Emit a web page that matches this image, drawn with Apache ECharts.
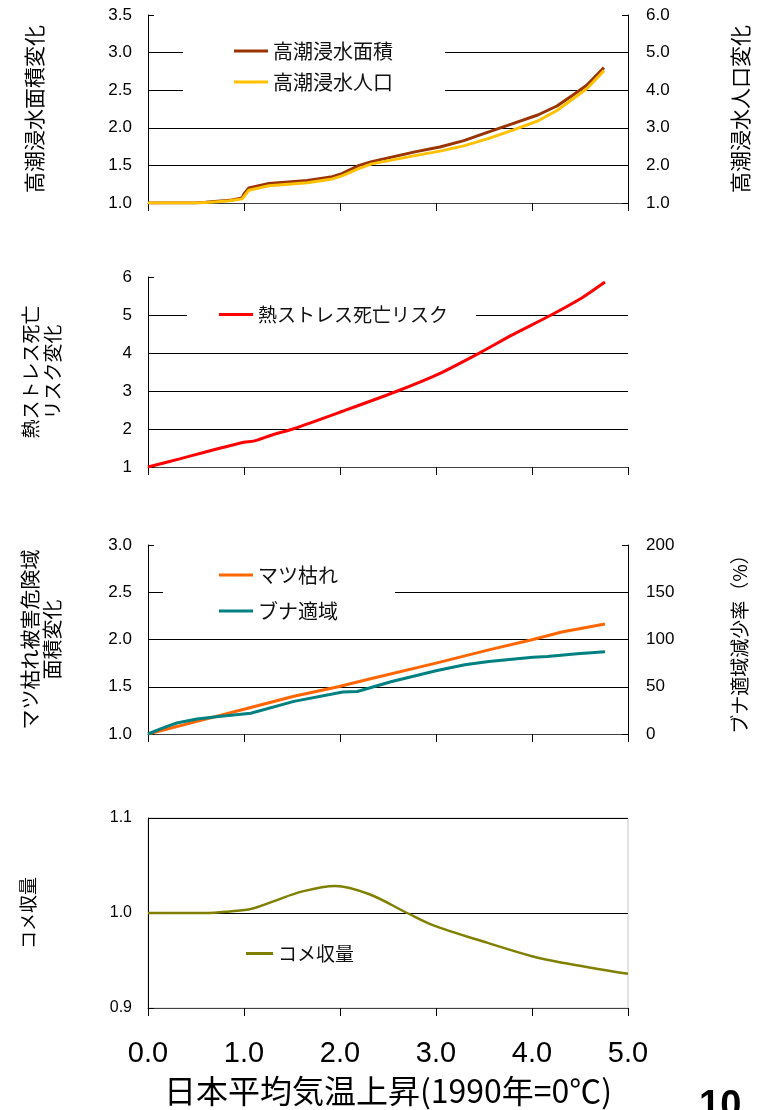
<!DOCTYPE html>
<html lang="ja">
<head>
  <meta charset="utf-8">
</head>
<body style="margin: 0; background: #fff">
  <div id="container" style="width: 765px; height: 1110px"></div>

  <script type="text/javascript" src="https://cdn.jsdelivr.net/npm/echarts@6.0.0/dist/echarts.min.js"></script>
  <script type="text/javascript">
    // 日本平均気温上昇 (x) ごとの影響
    var xTicks = ['0.0', '1.0', '2.0', '3.0', '4.0', '5.0'];

    // 高潮浸水 (左: 面積変化, 右: 人口変化)
    var floodX = [0, 0.49, 0.6, 0.85, 0.98, 1.0, 1.05, 1.26, 1.66, 1.92, 2.02, 2.2, 2.33, 2.78, 3.04, 3.29, 3.55, 3.8, 4.06, 4.26, 4.42, 4.57, 4.75];
    var floodArea = [1.0, 1.0, 1.01, 1.035, 1.067, 1.12, 1.2, 1.26, 1.3, 1.35, 1.39, 1.5, 1.55, 1.68, 1.745, 1.83, 1.945, 2.055, 2.17, 2.29, 2.43, 2.565, 2.8];
    var floodPop = [1.0, 1.0, 1.01, 1.06, 1.11, 1.16, 1.34, 1.46, 1.54, 1.64, 1.72, 1.92, 2.04, 2.26, 2.38, 2.52, 2.72, 2.94, 3.18, 3.46, 3.76, 4.04, 4.52];

    // 熱ストレス死亡リスク
    var heatX = [0, 0.34, 0.59, 1.0, 1.1, 1.3, 1.51, 2.02, 2.6, 3.03, 3.46, 3.79, 4.2, 4.5, 4.76];
    var heatRisk = [1.0, 1.22, 1.39, 1.65, 1.68, 1.85, 2.0, 2.46, 3.0, 3.45, 4.01, 4.47, 5.0, 5.42, 5.87];

    // マツ枯れ (左) / ブナ適域減少率 % (右)
    var pineX = [0, 0.51, 1.02, 1.52, 1.98, 2.34, 3.0, 3.55, 4.01, 4.31, 4.76];
    var pineArea = [1.0, 1.134, 1.268, 1.4, 1.5, 1.59, 1.75, 1.89, 2.0, 2.08, 2.165];
    var beechX = [0, 0.15, 0.3, 0.51, 0.76, 1.02, 1.07, 1.52, 2.03, 2.18, 2.54, 3.0, 3.3, 3.55, 4.01, 4.16, 4.47, 4.76];
    var beechLoss = [0, 6.3, 11.6, 15.8, 18.7, 21.5, 22, 34.5, 44.4, 45, 55.6, 66.9, 73.2, 76.8, 81.3, 82, 85, 87];

    // コメ収量
    var riceX = [0, 0.6, 0.85, 1.08, 1.3, 1.6, 1.95, 2.3, 2.7, 2.98, 3.54, 4.0, 4.3, 5.0];
    var riceYield = [1.0, 1.0, 1.0017, 1.0045, 1.012, 1.0225, 1.0285, 1.02, 1.0, 0.9867, 0.9685, 0.9545, 0.948, 0.936];

    function pairs(xs, ys) {
      return xs.map(function (x, i) { return [x, ys[i]]; });
    }

    var numFont = 'Liberation Sans, Arial, sans-serif';
    var jpFont = 'Noto Sans CJK JP, sans-serif';
    var fix1 = function (v) { return v.toFixed(1); };

    var dom = document.getElementById('container');
    var myChart = echarts.init(dom, null, { renderer: 'canvas' });

    var grids = [
      { left: 148, width: 480, top: 15, height: 188 },
      { left: 148, width: 480, top: 277, height: 190 },
      { left: 148, width: 480, top: 545, height: 189 },
      { left: 148, width: 480, top: 818, height: 190, show: true, borderColor: '#c8c8c8', borderWidth: 1 }
    ];

    function xAxisFor(i, last) {
      return {
        type: 'value', gridIndex: i, min: 0, max: 5, interval: 1,
        axisLine: { lineStyle: { color: '#404040', width: 1 } },
        axisTick: { show: true, length: 8, lineStyle: { color: '#000' } },
        splitLine: { show: false },
        axisLabel: last ? {
          show: true, margin: 31, fontSize: 29, color: '#000', fontFamily: numFont,
          formatter: function (v) { return xTicks[Math.round(v)]; }
        } : { show: false },
        name: last ? '日本平均気温上昇(1990年=0℃)' : '',
        nameLocation: 'middle', nameGap: 67,
        nameTextStyle: { fontSize: 32, color: '#000', fontFamily: jpFont }
      };
    }

    function yAxisFor(i, o) {
      return {
        type: 'value', gridIndex: i, position: o.pos || 'left',
        min: o.min, max: o.max, interval: o.interval,
        axisLine: { show: true, lineStyle: { color: '#000', width: 1 } },
        axisTick: { show: true, inside: true, length: 6, lineStyle: { color: '#000' } },
        axisLabel: { margin: o.pos === 'right' ? 18 : 16, fontSize: o.lblSize || 17, color: '#000', fontFamily: numFont, formatter: o.fmt },
        splitLine: o.split === false ? { show: false } : {
          show: true, showMaxLine: !!o.maxLine, lineStyle: { color: '#000', width: 1 }
        },
        name: o.name, nameLocation: 'middle', nameRotate: 90, nameGap: o.gap,
        nameTextStyle: { fontSize: o.nameSize || 20, color: '#000', fontFamily: jpFont, lineHeight: o.lh || 22 }
      };
    }

    var legendBase = {
      orient: 'vertical', icon: 'rect', itemWidth: 34, itemHeight: 3,
      backgroundColor: '#fff', borderRadius: 0,
      textStyle: { fontSize: 20, color: '#111', fontFamily: jpFont }
    };

    var option = {
      animation: false,
      backgroundColor: '#fff',
      grid: grids,
      xAxis: [xAxisFor(0), xAxisFor(1), xAxisFor(2), xAxisFor(3, true)],
      yAxis: [
        yAxisFor(0, { min: 1, max: 3.5, interval: 0.5, fmt: fix1, name: '高潮浸水面積変化', gap: 103, nameSize: 21 }),
        yAxisFor(0, { pos: 'right', min: 1, max: 6, interval: 1, fmt: fix1, split: false, name: '高潮浸水人口変化', gap: 101, nameSize: 21 }),
        yAxisFor(1, { min: 1, max: 6, interval: 1, name: '熱ストレス死亡\nリスク変化', gap: 84, nameSize: 19 }),
        yAxisFor(2, { min: 1, max: 3, interval: 0.5, fmt: fix1, name: 'マツ枯れ被害危険域\n面積変化', gap: 85, nameSize: 20 }),
        yAxisFor(2, { pos: 'right', min: 0, max: 200, interval: 50, split: false, name: 'ブナ適域減少率（%）', gap: 101, nameSize: 19 }),
        yAxisFor(3, { min: 0.9, max: 1.1, interval: 0.1, fmt: fix1, maxLine: true, lblSize: 16, name: 'コメ収量', gap: 109, nameSize: 18 })
      ],
      legend: [
        Object.assign({}, legendBase, {
          data: ['高潮浸水面積', '高潮浸水人口'], left: 183, top: 29,
          padding: [12, 52, 12, 51], itemGap: 11
        }),
        Object.assign({}, legendBase, {
          data: ['熱ストレス死亡リスク'], left: 187, top: 297,
          padding: [8, 28, 8, 32],
          textStyle: { fontSize: 19, color: '#111', fontFamily: jpFont }
        }),
        Object.assign({}, legendBase, {
          data: ['マツ枯れ', 'ブナ適域'], left: 163, top: 557,
          padding: [8, 57, 8, 56], itemGap: 16
        }),
        Object.assign({}, legendBase, {
          data: ['コメ収量'], left: 246, top: 944, itemWidth: 27,
          backgroundColor: 'transparent', padding: 0,
          textStyle: { fontSize: 19, color: '#111', fontFamily: jpFont }
        })
      ],
      series: [
        {
          name: '高潮浸水面積', type: 'line', xAxisIndex: 0, yAxisIndex: 0,
          data: pairs(floodX, floodArea), symbol: 'none', color: '#993300',
          lineStyle: { width: 3 }
        },
        {
          name: '高潮浸水人口', type: 'line', xAxisIndex: 0, yAxisIndex: 1,
          data: pairs(floodX, floodPop), symbol: 'none', color: '#FFC000',
          lineStyle: { width: 3 }
        },
        {
          name: '熱ストレス死亡リスク', type: 'line', xAxisIndex: 1, yAxisIndex: 2,
          data: pairs(heatX, heatRisk), symbol: 'none', smooth: 0.25, color: '#FF0000',
          lineStyle: { width: 3 }
        },
        {
          name: 'マツ枯れ', type: 'line', xAxisIndex: 2, yAxisIndex: 3,
          data: pairs(pineX, pineArea), symbol: 'none', color: '#FF6600',
          lineStyle: { width: 3 }
        },
        {
          name: 'ブナ適域', type: 'line', xAxisIndex: 2, yAxisIndex: 4,
          data: pairs(beechX, beechLoss), symbol: 'none', color: '#008080',
          lineStyle: { width: 3 }
        },
        {
          name: 'コメ収量', type: 'line', xAxisIndex: 3, yAxisIndex: 5,
          data: pairs(riceX, riceYield), symbol: 'none', smooth: 0.35, color: '#808000',
          lineStyle: { width: 2.5 }
        }
      ],
      graphic: [
        {
          type: 'text', left: 699, top: 1088,
          style: { text: '10', fontSize: 38, fontWeight: 'bold', fill: '#000', fontFamily: numFont }
        }
      ]
    };

    if (option && typeof option === 'object') {
      myChart.setOption(option);
    }

    window.addEventListener('resize', myChart.resize);
  </script>
</body>
</html>
